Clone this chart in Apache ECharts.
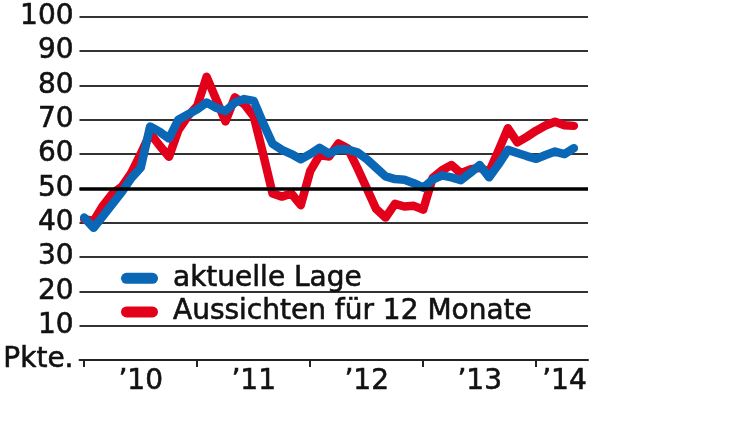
<!DOCTYPE html>
<html>
<head>
<meta charset="utf-8">
<script src="https://cdn.jsdelivr.net/npm/echarts@6/dist/echarts.min.js"></script>
<style>
html,body{margin:0;padding:0;background:#fff;}
#chart{width:750px;height:421px;}
</style>
</head>
<body>
<div id="chart"></div>
<script>
// Months Jan 2010 .. Jun 2014
var months = [];
for (var y = 2010; y <= 2014; y++) {
  for (var m = 1; m <= 12; m++) {
    if (y === 2014 && m > 6) break;
    months.push(y + '-' + (m < 10 ? '0' + m : m));
  }
}
var seriesNames = ['aktuelle Lage', 'Aussichten für 12 Monate'];
// aktuelle Lage (Jan 2010 .. May 2014)
var aktuelleLage = [
  41.5, 38.5, 42, 45.5, 49, 53, 56, 68, 66.5, 64.5, 70, 71.5,
  73, 75, 73.5, 72.5, 75, 76, 75.5, 69, 63, 61.2, 60, 58.5,
  60, 61.8, 60.1, 61.4, 61.3, 60.5, 58.5, 56, 53.5, 52.7, 52.5, 51.5,
  50.2, 52.5, 53.8, 53.2, 52.4, 54.5, 56.8, 53.2, 57, 61.2, 60.3, 59.4,
  58.6, 59.7, 60.7, 60, 61.7
];
// Aussichten für 12 Monate
var aussichten = [
  41, 40.5, 45, 48.5, 50.5, 54.5, 60, 66, 62.5, 59.2, 67, 71,
  74, 82.5, 76, 69.5, 76.5, 74.5, 71, 60, 48.5, 47.6, 48.5, 45.1,
  55, 59.7, 59.3, 63.1, 61.6, 56, 50, 44, 41.5, 45.5, 44.7, 44.9,
  43.8, 53, 55.3, 56.8, 54.4, 55.5, 56, 54.8, 61, 67.5, 63.4, 65,
  66.8, 68.3, 69.4, 68.4, 68.2
];
var yearLabels = ['\u201910', '\u201911', '\u201912', '\u201913', '\u201914'];
var yearLabelMonths = ['2010-07', '2011-07', '2012-07', '2013-07', '2014-04'];
var yearTickMonths = ['2010-01', '2011-01', '2012-01', '2013-01', '2014-01'];
var yTickLabels = ['Pkte.', '10', '20', '30', '40', '50', '60', '70', '80', '90', '100'];

var FONT = 'DejaVu Sans';
var TXT = {fontFamily: FONT, fontSize: 28, color: '#111', textBorderColor: '#111', textBorderWidth: 0.6};
var chart = echarts.init(document.getElementById('chart'), null, {renderer: 'canvas'});
chart.setOption({
  animation: false,
  grid: {left: 78, right: 162, top: 16.7, bottom: 61, containLabel: false},
  legend: {
    orient: 'vertical',
    left: 116, top: 259,
    itemWidth: 37, itemHeight: 11, itemGap: 5,
    icon: 'path://M5.5,0 H31.5 A5.5,5.5 0 0 1 31.5,11 H5.5 A5.5,5.5 0 0 1 5.5,0 Z',
    data: seriesNames,
    textStyle: Object.assign({}, TXT, {lineHeight: 28, padding: [0, 0, 0, 10]})
  },
  xAxis: {
    type: 'category',
    data: months,
    boundaryGap: true,
    axisLine: {show: true, lineStyle: {color: '#222', width: 2}},
    axisTick: {
      show: true, alignWithLabel: true, length: 7,
      lineStyle: {color: '#222', width: 2},
      interval: function (idx, val) { return yearTickMonths.indexOf(val) >= 0; }
    },
    axisLabel: Object.assign({}, TXT, {
      interval: function (idx, val) { return yearLabelMonths.indexOf(val) >= 0; },
      formatter: function (val) { var i = yearLabelMonths.indexOf(val); return i >= 0 ? yearLabels[i] : ''; },
      margin: 8
    }),
    splitLine: {show: false}
  },
  yAxis: {
    type: 'value', min: 0, max: 100, interval: 10,
    axisLine: {show: false}, axisTick: {show: false},
    axisLabel: Object.assign({}, TXT, {
      margin: 6,
      formatter: function (v) { return yTickLabels[Math.round(v / 10)]; }
    }),
    splitLine: {show: true, lineStyle: {color: '#333', width: 1.8}}
  },
  series: [
    {
      name: 'ref50', type: 'line', data: [], z: 1, silent: true,
      markLine: {
        silent: true, symbol: 'none', label: {show: false},
        lineStyle: {color: '#000', width: 3.5, type: 'solid'},
        data: [{yAxis: 50}]
      }
    },
    {
      name: seriesNames[1], type: 'line', data: aussichten, z: 3,
      symbol: 'none', smooth: false, color: '#e3001b',
      lineStyle: {color: '#e3001b', width: 8.5, cap: 'round', join: 'round'}
    },
    {
      name: seriesNames[0], type: 'line', data: aktuelleLage, z: 4,
      symbol: 'none', smooth: false, color: '#0a67b5',
      lineStyle: {color: '#0a67b5', width: 8.5, cap: 'round', join: 'round'}
    }
  ]
});
</script>
</body>
</html>
